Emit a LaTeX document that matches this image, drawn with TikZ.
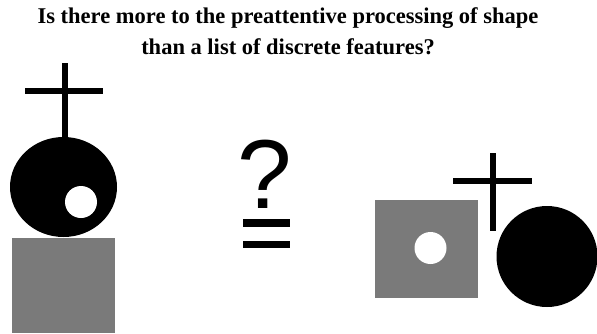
\documentclass[tikz,border=0pt]{standalone}
\usepackage{fontspec}
\setmainfont{Liberation Serif}
\newfontfamily\qfont{Liberation Sans}
\usepackage{tikz}
\usetikzlibrary{positioning}
\definecolor{ShapeInk}{HTML}{000000}
\definecolor{ShapeGrey}{HTML}{7A7A7A}

\begin{document}
\begin{tikzpicture}[x=1pt, y=-1pt,
  blob/.style={fill=ShapeInk, draw=none},
  hole/.style={circle, fill=white, draw=none, minimum size=32pt, inner sep=0pt},
  grey/.style={fill=ShapeGrey, draw=none},
  bar/.style={line width=6pt, ShapeInk},
  ttl/.style={font=\fontsize{22.5}{31}\selectfont\bfseries, align=center, inner sep=0pt},
]
\useasboundingbox (0,0) rectangle (597,333);

%% ---- title ----
\node[ttl, anchor=north] (title) at (288,7)
  {Is there more to the preattentive processing of shape\\
   than a list of discrete features?};

%% ---- left: stacked object ----
\draw[bar] (64.5,63) -- (64.5,140);
\draw[bar] (25,91) -- (103,91);
\fill[blob] (63.5,187) ellipse [x radius=53.5, y radius=50];
\node[hole] (lhole) at (81,202) {};
\fill[grey] (12,238) rectangle (115,333);

%% ---- middle: question mark over equals ----
\node[font=\qfont\fontsize{98}{98}\selectfont, inner sep=0pt, anchor=base]
  (qmark) at (265,208) {?};
\fill[ShapeInk] (243,219) rectangle (290,227);
\fill[ShapeInk] (243,241) rectangle (290,248);

%% ---- right: rearranged parts ----
\fill[grey] (375,200) rectangle (478,298);
\node[hole] (rhole) at (430.5,248) {};
\draw[bar] (493,153) -- (493,231);
\draw[bar] (453,180.5) -- (532,180.5);
\fill[blob] (547,256.5) circle [radius=50.5];
\end{tikzpicture}
\end{document}
